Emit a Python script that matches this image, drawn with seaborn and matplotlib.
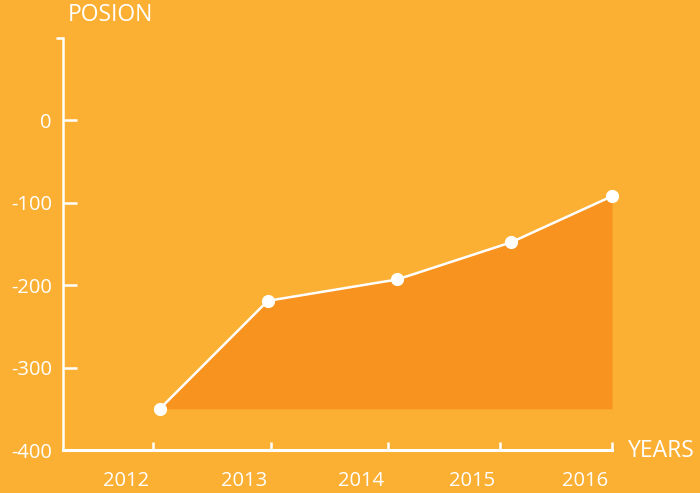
import matplotlib
matplotlib.use("Agg")
import matplotlib.pyplot as plt
import matplotlib.transforms as mtransforms
import seaborn as sns
import pandas as pd

# chart data
years = ["2012", "2013", "2014", "2015", "2016"]
tick_pos = [2012.0, 2013.03, 2014.05, 2015.02, 2016.0]  # ticks are not evenly spaced
x_pos = [2012.06, 2013.0, 2014.13, 2015.12, 2016.0]     # where the dots sit
posion = [-350, -219, -193, -148, -92]
y_ticks = [0, -100, -200, -300, -400]
y_labels = ["0", "-100", "-200", "-300", "-400"]

BG = "#FBB034"
FILL = "#F7931E"

sns.set_theme(style="white")
plt.rcParams["font.family"] = ["Open Sans", "DejaVu Sans"]
plt.rcParams["axes.unicode_minus"] = False

df = pd.DataFrame({"x": x_pos, "posion": posion})

fig = plt.figure(figsize=(7, 4.93), dpi=100, facecolor=BG)
ax = fig.add_axes([63 / 700, 43 / 493, (612 - 63) / 700, (450 - 38) / 493])
ax.set_facecolor(BG)

ax.fill_between(df["x"], df["posion"], posion[0], color=FILL, lw=0, zorder=1)
sns.lineplot(data=df, x="x", y="posion", ax=ax, color="white", lw=1.8,
             marker="o", markersize=9.5, markeredgewidth=0, zorder=3, clip_on=False)

ax.set_xlim(2011.216, 2016)
ax.set_ylim(-400, 100)

for s in ["top", "right"]:
    ax.spines[s].set_visible(False)
ax.spines["left"].set_color("white")
ax.spines["left"].set_linewidth(1.8)
ax.spines["bottom"].set_color("white")
ax.spines["bottom"].set_linewidth(2.2)

ax.set_xticks(tick_pos)
ax.set_xticklabels(years)
ax.set_yticks(y_ticks)
ax.set_yticklabels(y_labels)
ax.tick_params(axis="x", direction="in", length=6, width=1.8, color="white",
               labelcolor="white", labelsize=14.5, pad=15, bottom=True)
ax.tick_params(axis="y", direction="in", length=10, width=1.8, color="white",
               labelcolor="white", labelsize=14.5, pad=8, left=True)
# small cap at the top of the y axis
ax.set_yticks([100], minor=True)
ax.tick_params(axis="y", which="minor", direction="out", length=5, width=1.8,
               color="white", left=True)

# tick labels sit a bit left of their ticks
shift = mtransforms.ScaledTranslation(-27 / 100, 0, fig.dpi_scale_trans)
for lab in ax.get_xticklabels():
    lab.set_transform(lab.get_transform() + shift)

ax.set_xlabel("")
ax.set_ylabel("")
fig.text(68 / 700, 1 - 15 / 493, "POSION", color="white", fontsize=16.5,
         ha="left", va="center")
fig.text(628 / 700, 1 - 451 / 493, "YEARS", color="white", fontsize=16.5,
         ha="left", va="center")

fig.savefig("out.png", dpi=100, facecolor=BG)
